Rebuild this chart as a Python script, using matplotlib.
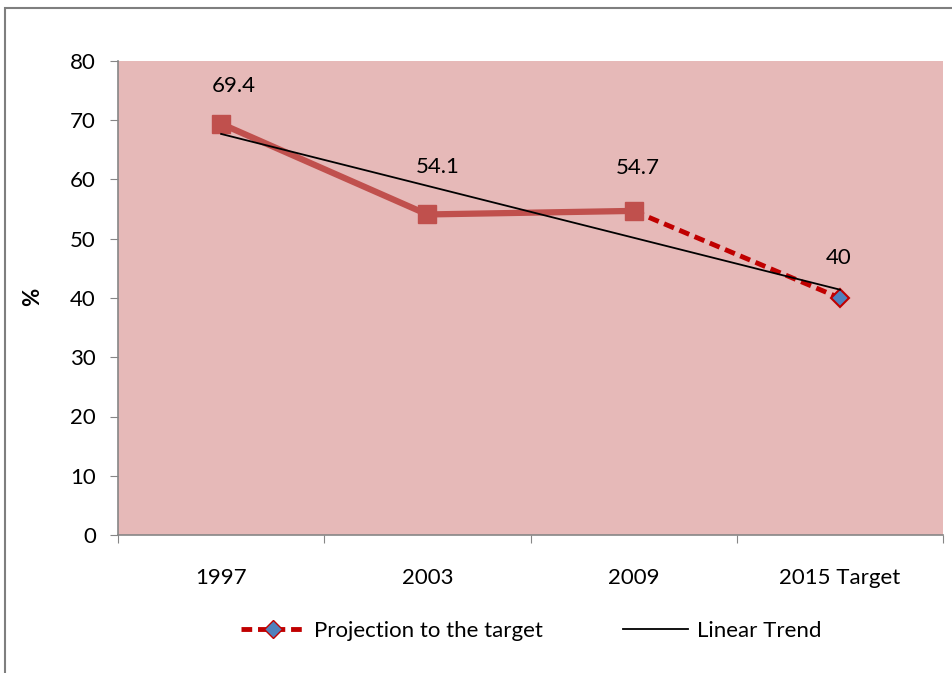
import matplotlib
matplotlib.use("Agg")
import matplotlib.pyplot as plt
import numpy as np
from matplotlib.lines import Line2D
from matplotlib.patches import Rectangle

categories = ["1997", "2003", "2009", "2015 Target"]
observed = [69.4, 54.1, 54.7]
target = 40.0
labels = ["69.4", "54.1", "54.7", "40"]
y_ticks = [0, 10, 20, 30, 40, 50, 60, 70, 80]

plt.rcParams['font.family'] = ['Lato', 'DejaVu Sans']
FS = 16

fig = plt.figure(figsize=(9.53, 6.73), dpi=100)
fig.patch.set_facecolor('white')
# outer chart frame
fig.patches.append(Rectangle((5/953, -0.1), 1.2, (1 - 8/673) + 0.1, transform=fig.transFigure,
                             fill=False, edgecolor='#7f7f7f', linewidth=1.5, zorder=0))

ax = fig.add_axes([118/953, 1 - 535/673, 825/953, 474/673])
ax.set_facecolor('#E6B9B8')

x = np.arange(len(categories))
all_vals = observed + [target]

ax.plot(x[:3], observed, color='#C0504D', linewidth=4.5, marker='s', markersize=13,
        markerfacecolor='#C0504D', markeredgecolor='#C0504D', zorder=3, solid_joinstyle='round')
ax.plot(x[2:], [observed[-1], target], color='#C00000', linewidth=3.5, linestyle=(0, (2.2, 1.2)),
        zorder=2)
ax.plot([x[3]], [target], marker='D', markersize=9, markerfacecolor='#4F81BD',
        markeredgecolor='#C00000', markeredgewidth=1.5, linestyle='none', zorder=4)

coef = np.polyfit(x, all_vals, 1)
ax.plot([x[0], x[-1]], np.polyval(coef, [x[0], x[-1]]), color='black', linewidth=1.3, zorder=5)

offsets = [(13, 38), (10, 47), (4, 43), (-1, 40)]
for i, (v, lab) in enumerate(zip(all_vals, labels)):
    ax.annotate(lab, (x[i], v), xytext=offsets[i], textcoords='offset pixels',
                ha='center', va='center', fontsize=FS, color='black')

ax.set_xlim(-0.5, 3.5)
ax.set_ylim(0, 80)
ax.set_yticks(y_ticks)
ax.set_xticks(np.arange(-0.5, 4, 1))
ax.set_xticklabels([])
ax.set_xticks(x, minor=True)
ax.set_xticklabels(categories, minor=True)
ax.tick_params(axis='x', which='minor', length=0, pad=24, labelsize=FS)
ax.tick_params(axis='x', which='major', length=6, color='#868686', direction='out')
ax.tick_params(axis='y', length=6, color='#868686', direction='out', labelsize=FS, pad=10)

for s in ['top', 'right']:
    ax.spines[s].set_visible(False)
for s in ['left', 'bottom']:
    ax.spines[s].set_color('#868686')
    ax.spines[s].set_linewidth(1.2)

fig.text(33/953, 1 - 297/673, '%', rotation=90, fontsize=16, fontweight='bold',
         ha='center', va='center')

handles = [
    Line2D([], [], color='#C00000', linewidth=3.5, linestyle=(0, (2.2, 1.2)), marker='D',
           markersize=9, markerfacecolor='#4F81BD', markeredgecolor='#C00000'),
    Line2D([], [], color='black', linewidth=1.3),
]
fig.legend(handles, ['Projection to the target', 'Linear Trend'], loc='center',
           bbox_to_anchor=(531/953, 1 - 631/673), ncol=2, frameon=False, fontsize=FS,
           handlelength=2.9, columnspacing=3.6, handletextpad=0.4)

fig.savefig('out.png', dpi=100)
